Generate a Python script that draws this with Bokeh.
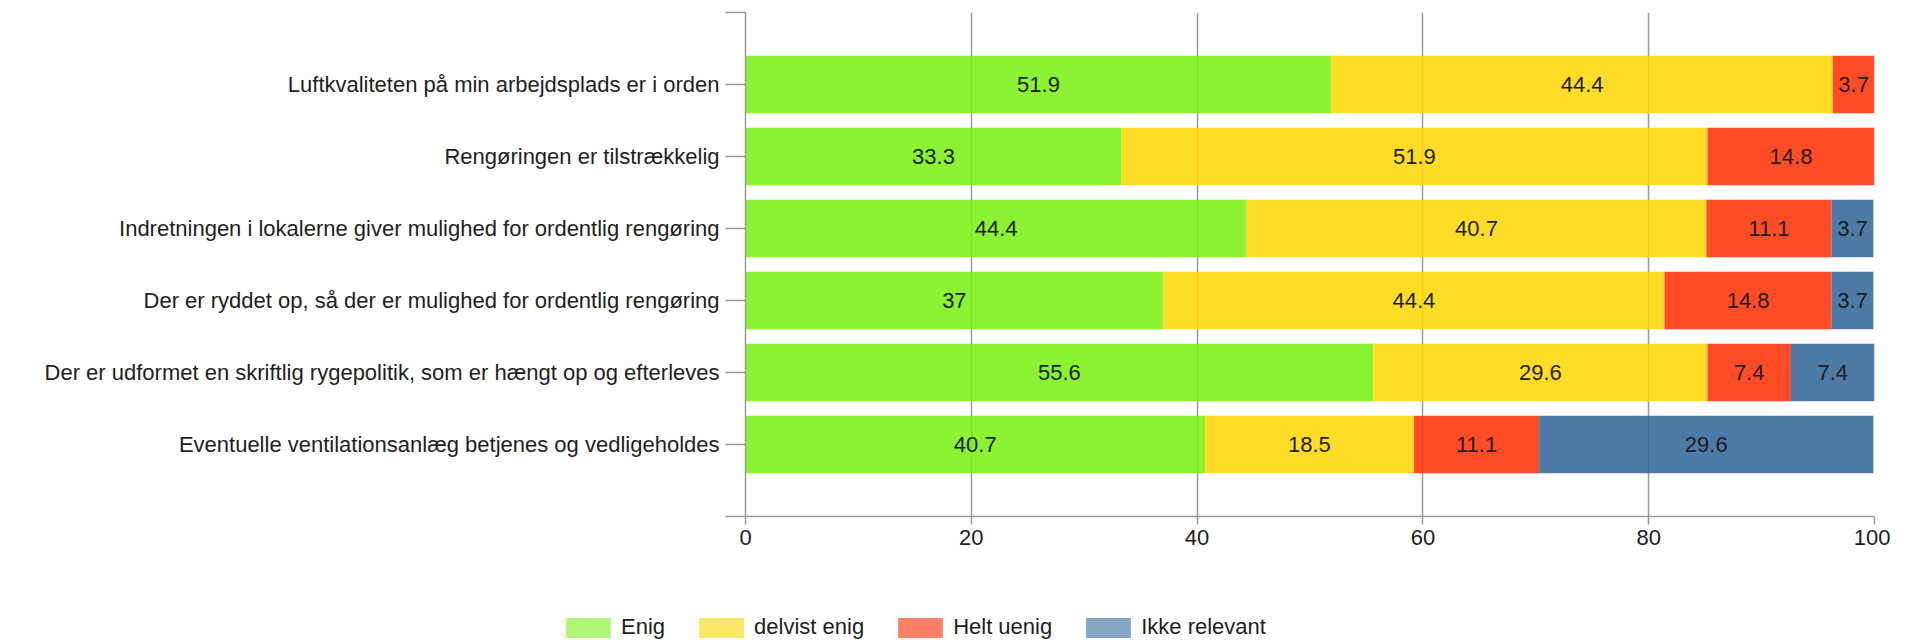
import numpy as np
from bokeh.plotting import figure
from bokeh.layouts import column
from bokeh.models import ColumnDataSource, Range1d, FixedTicker, Legend, LegendItem
from bokeh.core.properties import value
from bokeh.embed import file_html
from bokeh.resources import INLINE

categories = [
    "Luftkvaliteten på min arbejdsplads er i orden",
    "Rengøringen er tilstrækkelig",
    "Indretningen i lokalerne giver mulighed for ordentlig rengøring",
    "Der er ryddet op, så der er mulighed for ordentlig rengøring",
    "Der er udformet en skriftlig rygepolitik, som er hængt op og efterleves",
    "Eventuelle ventilationsanlæg betjenes og vedligeholdes",
]
series_names = ["Enig", "delvist enig", "Helt uenig", "Ikke relevant"]
enig = [51.9, 33.3, 44.4, 37, 55.6, 40.7]
delvist_enig = [44.4, 51.9, 40.7, 44.4, 29.6, 18.5]
helt_uenig = [3.7, 14.8, 11.1, 14.8, 7.4, 11.1]
ikke_relevant = [0, 0, 3.7, 3.7, 7.4, 29.6]
x_ticks = [0, 20, 40, 60, 80, 100]

bar_colors = ["#77F011", "#FFD600", "#FF2B00", "#2E6396"]
legend_colors = ["#B0F575", "#FFE566", "#FF8066", "#87A6C5"]

series = [enig, delvist_enig, helt_uenig, ikke_relevant]
ypos = np.arange(len(categories))

FONT = "Liberation Sans"
FS = "22px"
W = 1890

p = figure(width=W, height=594, output_backend="svg", toolbar_location=None,
           title=None, x_range=Range1d(0, 100), y_range=Range1d(6, -1),
           min_border_left=745, min_border_right=16, min_border_top=12,
           min_border_bottom=78)
p.outline_line_color = None
p.background_fill_color = "white"

# grid
p.ygrid.grid_line_color = None
p.xgrid.ticker = FixedTicker(ticks=x_ticks)
p.xgrid.grid_line_color = "#9a9a9a"
p.xgrid.grid_line_width = 1.5

left = np.zeros(len(categories))
for vals, col in zip(series, bar_colors):
    v = np.array(vals, dtype=float)
    src = ColumnDataSource(dict(y=ypos, left=left.copy(), right=left + v))
    p.hbar(y="y", left="left", right="right", height=0.8, source=src,
           fill_color=col, fill_alpha=0.85, line_color=None)
    mask = v > 0
    lab = ColumnDataSource(dict(
        x=(left + v / 2)[mask], y=ypos[mask],
        t=[f"{x:g}" for x in v[mask]]))
    p.text(x="x", y="y", text="t", source=lab, text_align="center",
           text_baseline="middle", text_font=value(FONT), text_font_size=FS,
           text_color="#1e1e1e")
    left = left + v

# axes
ax = p.xaxis[0]
ax.ticker = FixedTicker(ticks=x_ticks)
ax.axis_line_color = "#9a9a9a"
ax.axis_line_width = 1.5
ax.major_tick_line_color = "#9a9a9a"
ax.major_tick_line_width = 1.5
ax.major_tick_out = 8
ax.major_tick_in = 0
ax.minor_tick_line_color = None
ax.major_label_standoff = 5
ax.major_label_text_font = FONT
ax.major_label_text_font_size = FS
ax.major_label_text_color = "#1e1e1e"

ay = p.yaxis[0]
ay.ticker = FixedTicker(ticks=[-1] + list(range(len(categories))) + [len(categories)])
overrides = {i: c for i, c in enumerate(categories)}
overrides[-1] = ""
overrides[len(categories)] = ""
ay.major_label_overrides = overrides
ay.axis_line_color = "#9a9a9a"
ay.axis_line_width = 1.5
ay.major_tick_line_color = "#9a9a9a"
ay.major_tick_line_width = 1.5
ay.major_tick_out = 20
ay.major_tick_in = 0
ay.minor_tick_line_color = None
ay.major_label_standoff = 6
ay.major_label_text_font = FONT
ay.major_label_text_font_size = FS
ay.major_label_text_color = "#1e1e1e"

# legend strip: a separate figure whose frame spans the full width
q = figure(width=W, height=46, output_backend="svg", toolbar_location=None,
           title=None, x_range=Range1d(0, 1), y_range=Range1d(0, 1),
           x_axis_location=None, y_axis_location=None,
           min_border_left=0, min_border_right=0, min_border_top=0,
           min_border_bottom=0)
try:
    q.frame_align = False
    p.frame_align = False
except Exception:
    pass
q.outline_line_color = None
q.grid.grid_line_color = None
items = []
for name, col in zip(series_names, legend_colors):
    r = q.hbar(y=[0], left=[0], right=[0], height=0.8, fill_color=col, line_color=None)
    items.append(LegendItem(label=name, renderers=[r]))
legend = Legend(items=items, orientation="horizontal", location=(560, 0),
                glyph_width=56, glyph_height=25, label_standoff=5, spacing=28,
                padding=0, margin=0, border_line_color=None,
                background_fill_alpha=0, label_text_font=FONT,
                label_text_font_size=FS, label_text_color="#1e1e1e")
q.add_layout(legend, "center")

open("out.html", "w").write(file_html(column(p, q, spacing=0), INLINE))
